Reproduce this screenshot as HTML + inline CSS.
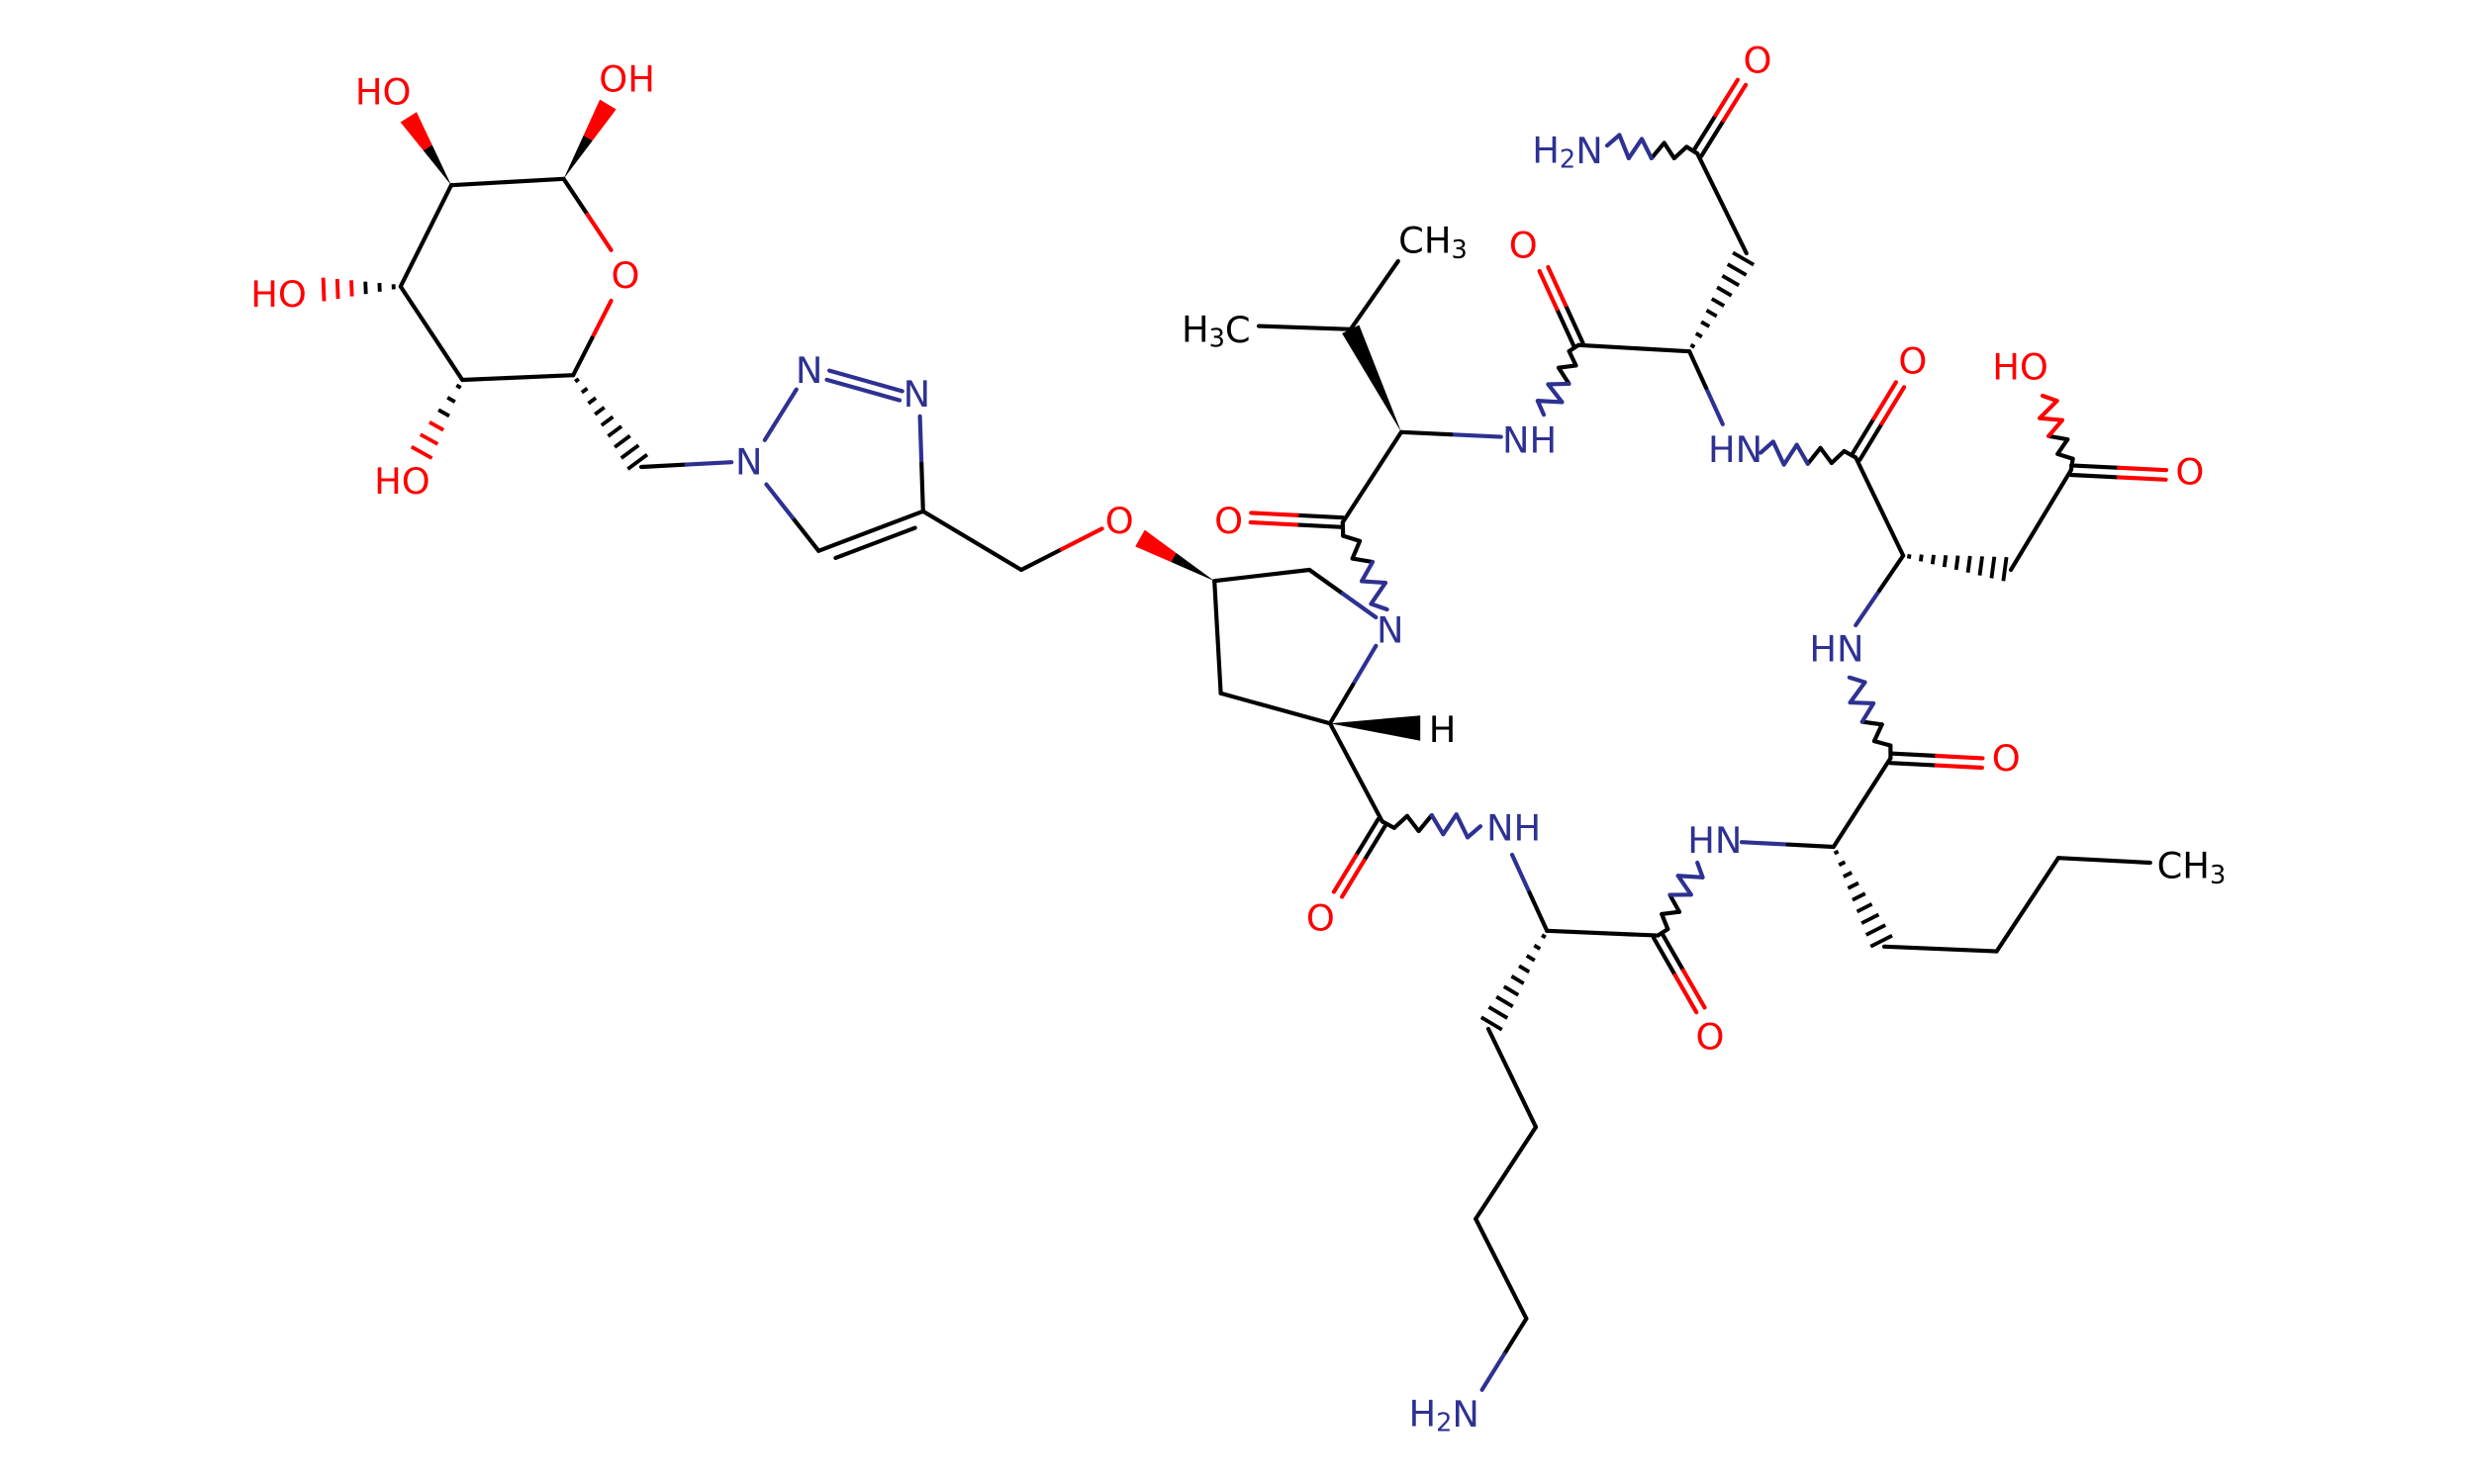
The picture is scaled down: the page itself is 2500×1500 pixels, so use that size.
<!DOCTYPE html>
<html><head><meta charset="utf-8"><style>
html,body{margin:0;padding:0;background:#fff;}
svg{display:block;}
text{font-family:"DejaVu Sans","Liberation Sans",sans-serif;font-size:23px;}
</style></head><body>
<svg id="s" width="2500" height="1500" viewBox="0 0 1562.5 937.5" xmlns="http://www.w3.org/2000/svg"></svg>
<script>
var K='#000',N='#2e3192',O='#ff0000';
var out=[];
function ln(x1,y1,x2,y2,c){out.push('<line x1="'+x1+'" y1="'+y1+'" x2="'+x2+'" y2="'+y2+'" stroke="'+c+'" stroke-width="2.6" stroke-linecap="round"/>');}
function b(x1,y1,x2,y2,c1,c2){c1=c1||K;c2=c2||c1;if(c1==c2){ln(x1,y1,x2,y2,c1);return;}var mx=(x1+x2)/2,my=(y1+y2)/2;ln(x1,y1,mx,my,c1);ln(mx,my,x2,y2,c2);}
function d(x1,y1,x2,y2,c1,c2,side){side=side||1;var dx=x2-x1,dy=y2-y1,L=Math.hypot(dx,dy),nx=-dy/L*6*side,ny=dx/L*6*side;
 b(x1-nx/2,y1-ny/2,x2-nx/2,y2-ny/2,c1,c2);b(x1+nx/2,y1+ny/2,x2+nx/2,y2+ny/2,c1,c2);}
function din(x1,y1,x2,y2,side){var dx=x2-x1,dy=y2-y1,L=Math.hypot(dx,dy),nx=-dy/L*8*side,ny=dx/L*8*side;
 ln(x1,y1,x2,y2,K);ln(x1+nx+dx*0.12,y1+ny+dy*0.12,x2+nx-dx*0.12,y2+ny-dy*0.12,K);}
function wedge(x1,y1,x2,y2,c){var dx=x2-x1,dy=y2-y1,L=Math.hypot(dx,dy),nx=-dy/L*6,ny=dx/L*6;
 if(c&&c!=K){var mx=x1+dx*0.55,my=y1+dy*0.55;
  out.push('<polygon points="'+x1+','+y1+' '+(mx+nx*0.55)+','+(my+ny*0.55)+' '+(mx-nx*0.55)+','+(my-ny*0.55)+'" fill="#000"/>');
  out.push('<polygon points="'+(mx+nx*0.55)+','+(my+ny*0.55)+' '+(x2+nx)+','+(y2+ny)+' '+(x2-nx)+','+(y2-ny)+' '+(mx-nx*0.55)+','+(my-ny*0.55)+'" fill="'+c+'"/>');}
 else out.push('<polygon points="'+x1+','+y1+' '+(x2+nx)+','+(y2+ny)+' '+(x2-nx)+','+(y2-ny)+'" fill="#000"/>');}
function hash(x1,y1,x2,y2,c,n){n=n||8;var dx=x2-x1,dy=y2-y1,L=Math.hypot(dx,dy),ux=-dy/L,uy=dx/L;
 for(var i=0;i<n;i++){var t=(i+0.5)/n,w=1+t*7,px=x1+dx*t,py=y1+dy*t,col=(c&&t>0.5)?c:K;
  out.push('<line x1="'+(px-ux*w)+'" y1="'+(py-uy*w)+'" x2="'+(px+ux*w)+'" y2="'+(py+uy*w)+'" stroke="'+col+'" stroke-width="2.4"/>');}}
function wavy(x1,y1,x2,y2,c1,c2){var dx=x2-x1,dy=y2-y1,L=Math.hypot(dx,dy),ux=-dy/L,uy=dx/L,n=8;
 for(var i=0;i<n;i++){var t0=i/n,t1=(i+1)/n,a0=(i==0?0:(i%2?1:-1))*(3+5*t0),a1=(i+1==n?0:((i+1)%2?1:-1))*(3+5*t1);
  ln(x1+dx*t0+ux*a0,y1+dy*t0+uy*a0,x1+dx*t1+ux*a1,y1+dy*t1+uy*a1,t0<0.5?c1:c2);}}
function t(x,y,s,c,anchor){out.push('<text x="'+x+'" y="'+y+'" fill="'+c+'" text-anchor="'+(anchor||'middle')+'" dominant-baseline="central">'+s+'</text>');}
function sub(x,y,a,sb,bb,c,anchor){out.push('<text x="'+x+'" y="'+y+'" fill="'+c+'" text-anchor="'+(anchor||'middle')+'" dominant-baseline="central">'+a+'<tspan dy="6" font-size="16">'+sb+'</tspan><tspan dy="-6">'+bb+'</tspan></text>');}

b(285,117,356,113);b(285,117,253,181);b(253,181,292,240);b(292,240,362,237);
b(356,113,386,158,K,O);b(386,190,362,237,O,K);
wedge(356,113,384,66,O);wedge(285,117,258,74,O);
hash(253,181,200,183,O,6);hash(292,240,264,290,O,6);
hash(362,237,405,295,K,9);b(405,295,462,292,K,N);
t(395,174,'O',O);t(396,50,'OH',O);t(242,58,'HO',O);t(176,186,'HO',O);t(254,304,'HO',O);
t(473,292,'N',N);t(511,234,'N',N);t(579,249,'N',N);
b(483,278,503,246,N);d(523,237,569,250,N,N,-1);b(581,263,583,323,N,K);
din(583,323,517,348,-1);b(517,348,484,306,K,N);
b(583,323,645,360);b(645,360,696,334,K,O);t(707,329,'O',O);
wedge(767,367,720,340,O);
b(767,367,827,360);b(827,360,869,390,K,N);b(869,408,840,457,N,K);b(840,457,771,438);b(771,438,767,367);
t(878,398,'N',N);
out.push('<polygon points="840,457 897,452 897,468" fill="#000"/>');t(911,461,'H',K);
b(840,457,873,519);d(873,519,845,565,K,O);t(834,580,'O',O);
wavy(873,519,935,522,K,N);t(956,523,'NH',N);
b(955,540,977,588,N,K);
hash(977,588,940,650,K,9);b(940,650,970,712);b(970,712,932,770);b(932,770,964,833);b(964,833,936,878,K,N);
sub(912,893,'H','2','N',N);
b(977,588,1047,591);d(1047,591,1074,638,K,O);t(1080,655,'O',O);
wavy(1047,591,1072,545,K,N);t(1083,531,'HN',N);
b(1100,532,1158,535,N,K);
hash(1158,535,1190,598,K,9);b(1190,598,1261,601);b(1261,601,1300,542);b(1300,542,1358,545);
sub(1384,547,'CH','3','',K);
b(1158,535,1194,479);d(1194,479,1252,482,K,O);t(1267,479,'O',O);
wavy(1194,479,1168,428,K,N);t(1160,410,'HN',N);
b(1172,395,1202,351,N,K);
hash(1202,351,1270,360,K,9);b(1270,360,1308,297);d(1308,297,1368,300,K,O);t(1383,298,'O',O);
wavy(1308,297,1290,250,K,O);t(1276,232,'HO',O);
b(1202,351,1172,289);d(1172,289,1200,243,K,O);t(1208,228,'O',O);
wavy(1172,289,1112,286,K,N);t(1096,284,'HN',N);
b(1088,268,1067,222,N,K);
hash(1067,222,1103,160,K,9);b(1103,160,1072,97);d(1072,97,1100,52,K,O);t(1110,38,'O',O);
wavy(1072,97,1015,92,K,N);sub(990,95,'H','2','N',N);
b(1067,222,997,218);d(997,218,975,170,K,O);t(962,155,'O',O);
wavy(997,218,975,262,K,N);t(966,278,'NH',N);
b(948,276,885,273,N,K);
wedge(885,273,853,208,K);b(853,208,883,165);sub(905,152,'CH','3','',K);
b(853,208,795,206);sub(768,208,'H','3','C',K);
b(885,273,848,330);d(848,330,790,327,K,O);t(776,329,'O',O);
wavy(848,330,876,385,K,N);
document.getElementById('s').innerHTML=out.join('');
</script>
</body></html>
